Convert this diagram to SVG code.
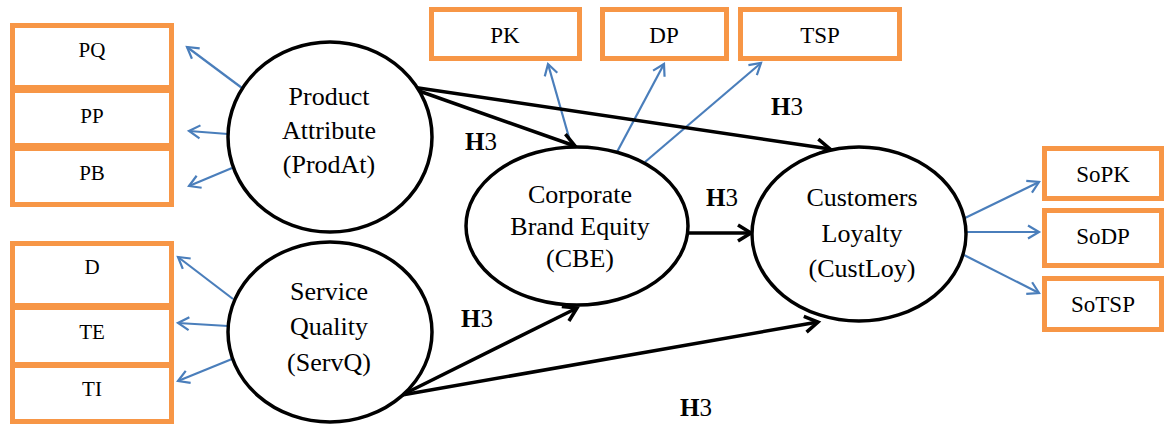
<svg xmlns="http://www.w3.org/2000/svg" width="1165" height="425" viewBox="0 0 1165 425">
<style>
.box{fill:#fff;stroke:#F79646;stroke-width:5}
.ell{fill:#fff;stroke:#000;stroke-width:3.5}
.t{font-family:"Liberation Serif","Times New Roman",serif;fill:#000;text-anchor:middle}
.bl{font-size:21px}
.bt{font-size:23px}
.el{font-size:26px}
.h{font-family:"Liberation Serif","Times New Roman",serif;font-size:25px;fill:#000}
.blue{stroke:#4A7EBB;stroke-width:2.2;fill:none;marker-end:url(#ab)}
.blk{stroke:#000;stroke-width:3.5;fill:none;marker-end:url(#ak)}
</style>
<defs>
<marker id="ab" markerUnits="userSpaceOnUse" markerWidth="16" markerHeight="16" viewBox="0 0 16 16" refX="13" refY="8" orient="auto">
<path d="M2,1.5 L13,8 L2,14.5" fill="none" stroke="#4A7EBB" stroke-width="2.2"/>
</marker>
<marker id="ak" markerUnits="userSpaceOnUse" markerWidth="20" markerHeight="20" viewBox="0 0 20 20" refX="16" refY="10" orient="auto">
<path d="M3,2 L16,10 L3,18" fill="none" stroke="#000" stroke-width="3.5"/>
</marker>
</defs>
<g id="connectors">
<path class="blue" d="M242,88 L187,47"/>
<path class="blue" d="M228,134 L189,131"/>
<path class="blue" d="M232,168 L189,186"/>
<path class="blue" d="M233,299 L178,257"/>
<path class="blue" d="M228,326 L178,323"/>
<path class="blue" d="M232,359 L178,381"/>
<path class="blue" d="M570,141 L548,64"/>
<path class="blue" d="M617,152 L664,64"/>
<path class="blue" d="M645,162 L761,63"/>
<path class="blue" d="M965,218 L1039,182"/>
<path class="blue" d="M967,232 L1039,232"/>
<path class="blue" d="M964,255 L1039,293"/>
<path class="blk" d="M405,86 L575,146"/>
<path class="blk" d="M405,86 L830,149"/>
<path class="blk" d="M688,233 L751,233"/>
<path class="blk" d="M402,395 L577,308"/>
<path class="blk" d="M402,395 L818,322"/>
</g>
<g id="PQ"><rect class="box" x="12.5" y="25.5" width="159" height="62"/><text class="t bl" x="92" y="57">PQ</text></g>
<g id="PP"><rect class="box" x="12.5" y="90.5" width="159" height="55"/><text class="t bl" x="92" y="123">PP</text></g>
<g id="PB"><rect class="box" x="12.5" y="148.5" width="159" height="56"/><text class="t bl" x="92" y="180">PB</text></g>
<g id="D"><rect class="box" x="12.5" y="243.5" width="159" height="62"/><text class="t bl" x="92" y="274">D</text></g>
<g id="TE"><rect class="box" x="12.5" y="307.5" width="159" height="57"/><text class="t bl" x="92" y="339">TE</text></g>
<g id="TI"><rect class="box" x="12.5" y="365.5" width="159" height="56"/><text class="t bl" x="92" y="396">TI</text></g>
<g id="PK"><rect class="box" x="431.5" y="9.5" width="148" height="49"/><text class="t bt" x="505" y="43">PK</text></g>
<g id="DP"><rect class="box" x="602.5" y="9.5" width="124" height="49"/><text class="t bt" x="664" y="43">DP</text></g>
<g id="TSP"><rect class="box" x="740.5" y="9.5" width="159" height="49"/><text class="t bt" x="820" y="43">TSP</text></g>
<g id="SoPK"><rect class="box" x="1044.5" y="148.5" width="117" height="50"/><text class="t bt" x="1103" y="182">SoPK</text></g>
<g id="SoDP"><rect class="box" x="1044.5" y="210.5" width="117" height="55"/><text class="t bt" x="1103" y="244">SoDP</text></g>
<g id="SoTSP"><rect class="box" x="1044.5" y="278.5" width="117" height="51"/><text class="t bt" x="1103" y="312">SoTSP</text></g>
<g id="ProdAt"><ellipse class="ell" cx="330" cy="137" rx="102" ry="95"/>
<text class="t el" x="329" y="105">Product</text><text class="t el" x="329" y="139">Attribute</text><text class="t el" x="329" y="173">(ProdAt)</text></g>
<g id="ServQ"><ellipse class="ell" cx="330" cy="332" rx="102" ry="90"/>
<text class="t el" x="329" y="300">Service</text><text class="t el" x="329" y="335">Quality</text><text class="t el" x="329" y="371">(ServQ)</text></g>
<g id="CBE"><ellipse class="ell" cx="577" cy="226" rx="111" ry="79"/>
<text class="t el" x="580" y="203">Corporate</text><text class="t el" x="580" y="235">Brand Equity</text><text class="t el" x="580" y="267">(CBE)</text></g>
<g id="CustLoy"><ellipse class="ell" cx="859" cy="234" rx="107" ry="87"/>
<text class="t el" x="862" y="206">Customers</text><text class="t el" x="862" y="242">Loyalty</text><text class="t el" x="862" y="277">(CustLoy)</text></g>
<g id="labels">
<text class="h" x="465" y="150"><tspan font-weight="bold">H</tspan>3</text>
<text class="h" x="771" y="115"><tspan font-weight="bold">H</tspan>3</text>
<text class="h" x="706" y="206"><tspan font-weight="bold">H</tspan>3</text>
<text class="h" x="461" y="327"><tspan font-weight="bold">H</tspan>3</text>
<text class="h" x="680" y="416"><tspan font-weight="bold">H</tspan>3</text>
</g>
</svg>
